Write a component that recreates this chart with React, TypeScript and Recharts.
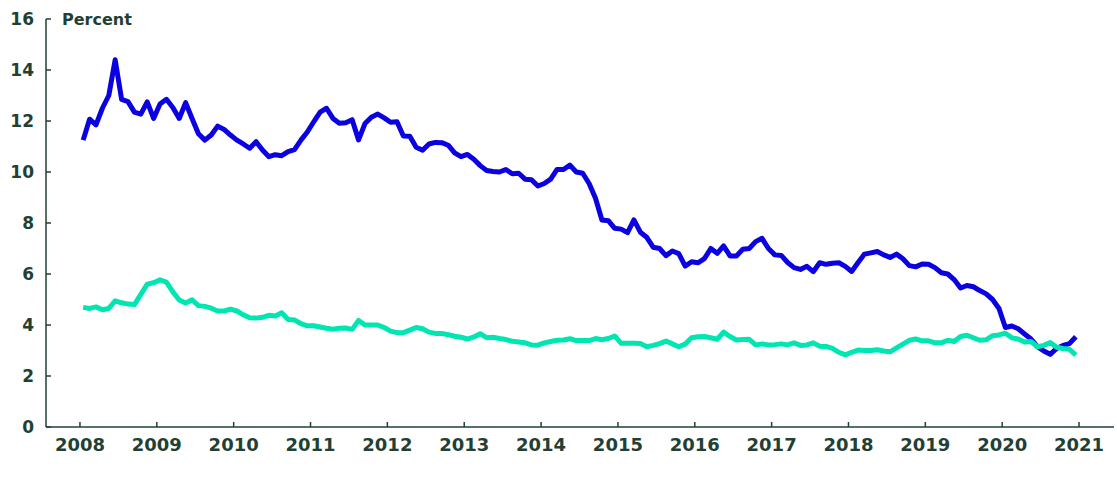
import { LineChart, Line, XAxis, YAxis } from 'recharts'

// monthly readings, Jan 2008 .. Dec 2020
const blueValues = [
  11.25, 12.07, 11.85, 12.5, 13.0, 14.4, 12.85, 12.76, 12.35, 12.27, 12.75, 12.1,
  12.67, 12.85, 12.53, 12.1, 12.72, 12.1, 11.5, 11.25, 11.45, 11.8, 11.67, 11.45,
  11.25, 11.1, 10.93, 11.19, 10.86, 10.6, 10.68, 10.64, 10.8, 10.88, 11.25, 11.57,
  11.97, 12.35, 12.5, 12.1, 11.91, 11.93, 12.05, 11.26, 11.9, 12.15, 12.27, 12.12,
  11.95, 11.97, 11.41, 11.4, 10.97, 10.85, 11.1, 11.16, 11.15, 11.05, 10.75, 10.6,
  10.69, 10.5, 10.25, 10.06, 10.02, 10.0, 10.1, 9.93, 9.95, 9.72, 9.7, 9.45,
  9.55, 9.72, 10.1, 10.1, 10.27, 10.0, 9.95, 9.55, 8.97, 8.12, 8.09, 7.79,
  7.76, 7.62, 8.12, 7.64, 7.44, 7.05, 7.0, 6.72, 6.9, 6.8, 6.31, 6.48,
  6.44, 6.6, 7.0, 6.81, 7.1, 6.71, 6.71, 6.97, 7.0, 7.27, 7.4, 7.0,
  6.75, 6.73, 6.45, 6.25, 6.18, 6.3, 6.09, 6.44, 6.38, 6.42, 6.44, 6.3,
  6.1, 6.45, 6.78, 6.83, 6.88, 6.75, 6.65, 6.78, 6.6, 6.33, 6.28, 6.39,
  6.38, 6.25, 6.05, 6.0, 5.78, 5.45, 5.55, 5.5, 5.35, 5.22, 5.0, 4.65,
  3.9, 3.96, 3.85, 3.65, 3.45, 3.15, 2.98, 2.85, 3.08, 3.2, 3.27, 3.54,
]

const tealValues = [
  4.69, 4.65, 4.71, 4.6, 4.65, 4.95, 4.87, 4.82, 4.8, 5.2, 5.6, 5.66,
  5.77, 5.68, 5.3, 4.98, 4.86, 4.99, 4.76, 4.73, 4.66, 4.55, 4.55, 4.62,
  4.55, 4.4, 4.28, 4.27, 4.3, 4.38, 4.35, 4.48, 4.22, 4.2, 4.05, 3.97,
  3.97, 3.92, 3.87, 3.83, 3.87, 3.88, 3.83, 4.18, 4.0, 4.0, 4.0, 3.9,
  3.76, 3.7, 3.7, 3.8, 3.9, 3.85, 3.72, 3.67, 3.67, 3.62, 3.56, 3.52,
  3.45, 3.53, 3.66, 3.5, 3.52, 3.47, 3.43, 3.36, 3.33, 3.3, 3.22, 3.21,
  3.3, 3.35, 3.4, 3.41, 3.46, 3.39, 3.39, 3.39, 3.47, 3.42, 3.47, 3.57,
  3.28, 3.28, 3.28, 3.27, 3.15, 3.2, 3.27, 3.37, 3.26, 3.15, 3.25, 3.5,
  3.54, 3.55, 3.5, 3.44, 3.72, 3.55, 3.41, 3.43, 3.44, 3.22, 3.26, 3.22,
  3.23, 3.26, 3.22, 3.3, 3.2, 3.22, 3.3, 3.17, 3.16, 3.08, 2.93, 2.83,
  2.93, 3.02, 3.0, 3.0, 3.03, 2.98, 2.95, 3.1, 3.25, 3.4, 3.45, 3.38,
  3.38, 3.3, 3.3, 3.4, 3.35, 3.55, 3.6, 3.5, 3.4, 3.42, 3.58, 3.61,
  3.68, 3.5, 3.45, 3.33, 3.35, 3.15, 3.2, 3.31, 3.13, 3.08, 3.05, 2.82,
]

const startYear = 2008
const yearTicks = [2008, 2009, 2010, 2011, 2012, 2013, 2014, 2015, 2016, 2017, 2018, 2019, 2020, 2021]
const percentTicks = [0, 2, 4, 6, 8, 10, 12, 14, 16]

// mid-month positions on a continuous year axis
const data = blueValues.map((v, i) => ({
  t: startYear + Math.floor(i / 12) + ((i % 12) + 0.5) / 12,
  blue: v,
  teal: tealValues[i],
}))

const ink = '#233f34'
const font = '"DejaVu Sans", sans-serif'

export default function App() {
  return (
    <div style={{ position: 'absolute', left: 0, top: 0, width: 1117, height: 477, background: '#fff' }}>
      <div
        style={{
          position: 'absolute',
          left: 62,
          top: 12,
          fontFamily: font,
          fontWeight: 'bold',
          fontSize: 16,
          lineHeight: 1,
          color: ink,
        }}
      >
        Percent
      </div>
      <LineChart width={1117} height={477} data={data} margin={{ top: 19, right: 3, left: 0, bottom: 0 }}>
        <XAxis
          dataKey="t"
          type="number"
          domain={[2007.558, 2021.455]}
          ticks={yearTicks}
          allowDataOverflow
          height={50}
          tickSize={-5}
          tickMargin={16}
          axisLine={{ stroke: ink, strokeWidth: 1.5 }}
          tickLine={{ stroke: ink, strokeWidth: 1.5 }}
          tick={{ fill: ink, fontSize: 18, fontWeight: 'bold', fontFamily: font }}
        />
        <YAxis
          type="number"
          domain={[0, 16]}
          ticks={percentTicks}
          width={46}
          tickSize={-5}
          tickMargin={17}
          axisLine={{ stroke: ink, strokeWidth: 1.5 }}
          tickLine={{ stroke: ink, strokeWidth: 1.5 }}
          tick={{ fill: ink, fontSize: 17, fontWeight: 'bold', fontFamily: font }}
        />
        <Line
          dataKey="blue"
          type="linear"
          stroke="#0a00e0"
          strokeWidth={5}
          strokeLinejoin="round"
          dot={false}
          isAnimationActive={false}
        />
        <Line
          dataKey="teal"
          type="linear"
          stroke="#00e6b2"
          strokeWidth={5}
          strokeLinejoin="round"
          dot={false}
          isAnimationActive={false}
        />
      </LineChart>
    </div>
  )
}
